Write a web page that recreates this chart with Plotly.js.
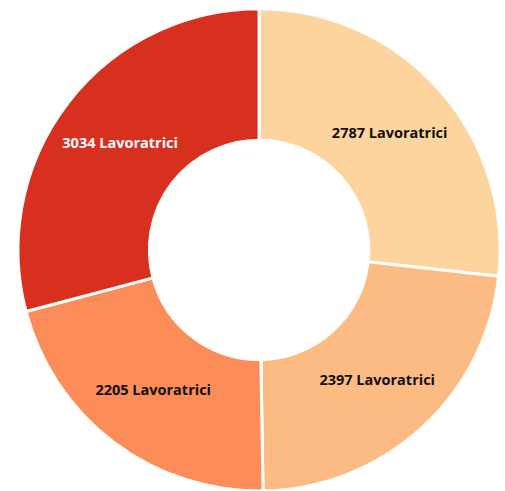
<!DOCTYPE html>
<html>
<head>
<meta charset="utf-8">
<script src="https://cdn.plot.ly/plotly-3.0.1.min.js"></script>
<style>html,body{margin:0;padding:0;background:#fff;}#chart{width:505px;height:491px;}</style>
</head>
<body>
<div id="chart"></div>
<script>
const values = [2787, 2397, 2205, 3034];
const labels = ["Gruppo A", "Gruppo B", "Gruppo C", "Gruppo D"];
const colors = ["#FDD49E", "#FDBB84", "#FC8D59", "#D7301F"];
const textColors = ["#111111", "#111111", "#111111", "#ffffff"];

Plotly.newPlot("chart", [{
  type: "pie",
  values: values,
  labels: labels,
  hole: 0.455,
  sort: false,
  direction: "clockwise",
  rotation: 0,
  marker: {colors: colors, line: {color: "#ffffff", width: 3}},
  texttemplate: "%{value} Lavoratrici",
  textposition: "inside",
  insidetextorientation: "horizontal",
  textfont: {family: "'Open Sans', sans-serif", size: 14.5, weight: "bold", color: textColors},
  showlegend: false,
  hoverinfo: "none",
  domain: {x: [0.028, 0.998], y: [0, 0.982]}
}], {
  width: 505, height: 491,
  margin: {l: 0, r: 0, t: 0, b: 0},
  paper_bgcolor: "#ffffff",
  showlegend: false
}, {staticPlot: true});
</script>
</body>
</html>
